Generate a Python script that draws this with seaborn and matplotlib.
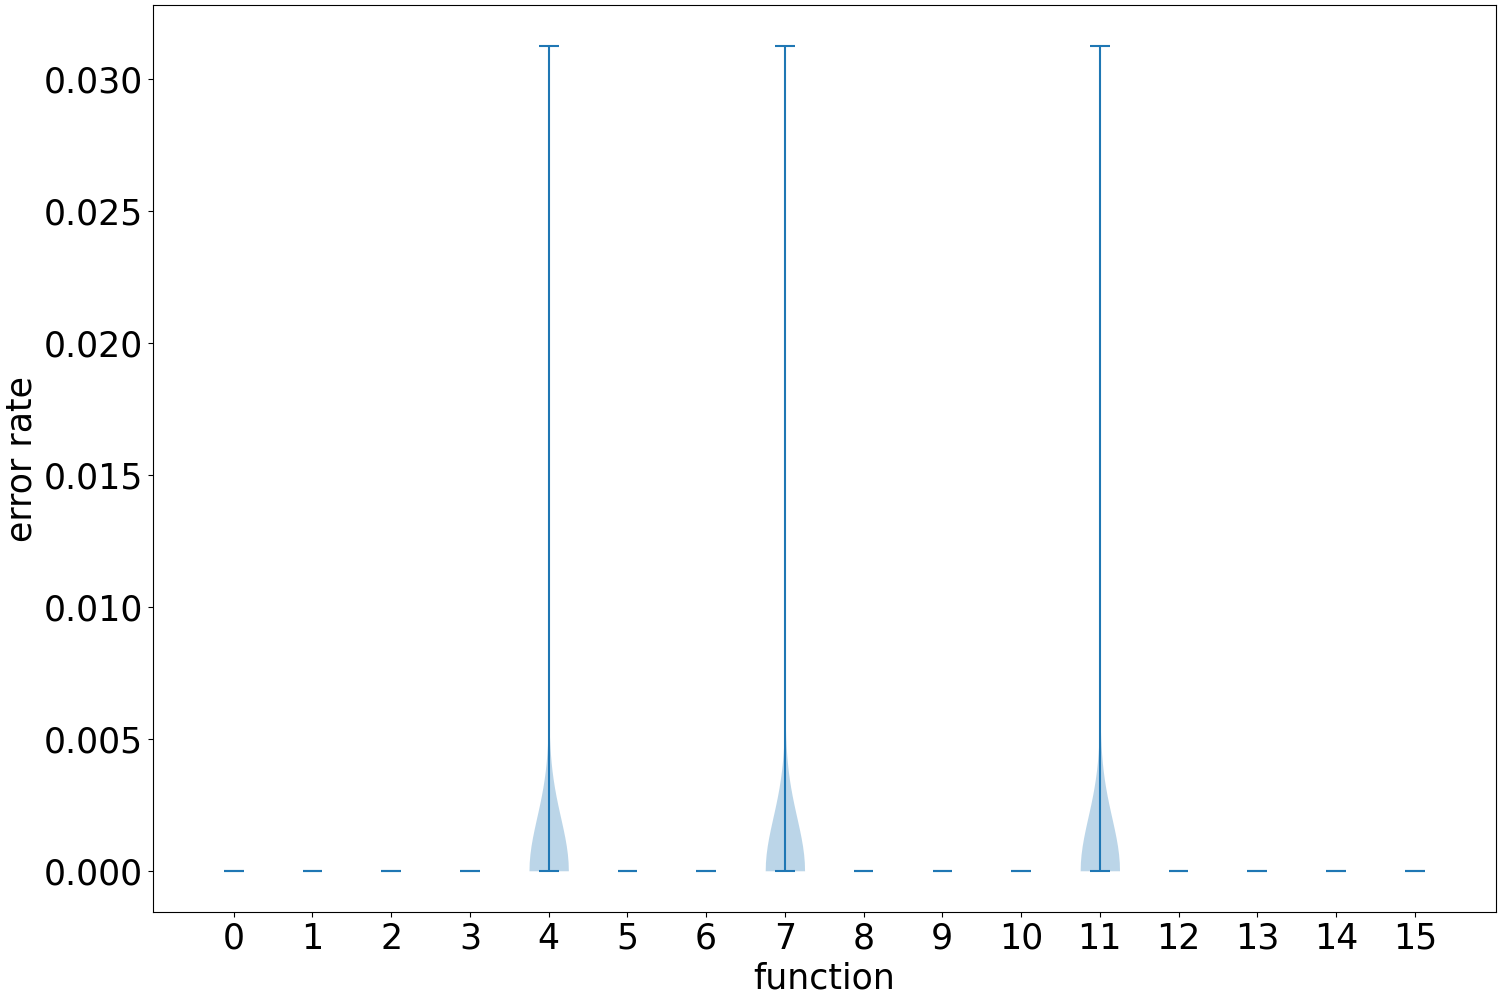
import numpy as np
import pandas as pd
import matplotlib
matplotlib.use("Agg")
import matplotlib.pyplot as plt
import seaborn as sns

# ---- data ----
functions = list(range(16))
runs_per_function = 50
# number of runs with a non-zero error rate, and the error rate in those runs
nonzero_runs = [0, 0, 0, 0, 1, 0, 0, 1, 0, 0, 0, 1, 0, 0, 0, 0]
nonzero_rate = [0, 0, 0, 0, 0.03125, 0, 0, 0.03125, 0, 0, 0, 0.03125, 0, 0, 0, 0]

rows = []
for f, k, r in zip(functions, nonzero_runs, nonzero_rate):
    vals = [0.0] * (runs_per_function - k) + [r] * k
    for v in vals:
        rows.append({"function": f, "error rate": v})
df = pd.DataFrame(rows)

plt.rcParams.update(plt.rcParamsDefault)
plt.rcParams["font.family"] = ["DejaVu Sans"]

fig, ax = plt.subplots(figsize=(15, 10), dpi=100)
fig.subplots_adjust(left=0.102, right=0.997, bottom=0.088, top=0.995)

c0 = "#1f77b4"
# only groups with spread get a density body
spread = [f for f in functions if df[df["function"] == f]["error rate"].nunique() > 1]
sns.violinplot(data=df[df["function"].isin(spread)].assign(function=lambda d: d["function"].astype(str)),
               x="function", y="error rate", order=[str(f) for f in functions],
               cut=0, inner=None, width=0.5, density_norm="width", bw_method="scott",
               color=c0, saturation=1, linewidth=0, alpha=0.3, ax=ax)

# extrema bars like matplotlib's violinplot
stats = df.groupby("function")["error rate"].agg(["min", "max"]).reindex(functions)
pos = np.arange(len(functions))
ax.vlines(pos, stats["min"], stats["max"], colors=c0, linewidth=1.5)
ax.hlines(stats["max"], pos - 0.125, pos + 0.125, colors=c0, linewidth=1.5)
ax.hlines(stats["min"], pos - 0.125, pos + 0.125, colors=c0, linewidth=1.5)

ax.set_xlim(-1.025, 16.025)
lo, hi = df["error rate"].min(), df["error rate"].max()
m = (hi - lo) * 0.05
ax.set_ylim(lo - m, hi + m)
ax.set_xticks(pos)
ax.set_xticklabels([str(f) for f in functions])
ax.set_xlabel("function", fontsize=25)
ax.set_ylabel("error rate", fontsize=25)
ax.tick_params(labelsize=25)
for s in ax.spines.values():
    s.set_visible(True)
    s.set_color("black")

fig.savefig("out.png", dpi=100)
